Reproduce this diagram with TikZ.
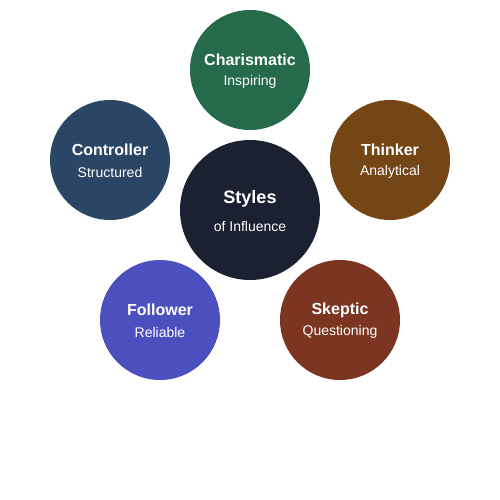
\documentclass[tikz,border=0pt]{standalone}
\usepackage{fontspec}
\setmainfont{Liberation Sans}
\definecolor{cCenter}{HTML}{1B2130}
\definecolor{cChar}{HTML}{256A4A}
\definecolor{cCtrl}{HTML}{2B4566}
\definecolor{cThink}{HTML}{744515}
\definecolor{cFollow}{HTML}{4C50BF}
\definecolor{cSkep}{HTML}{7B3520}
\tikzset{
  bubble/.style={circle, minimum size=120pt, inner sep=0pt, draw=none},
  hub/.style={circle, minimum size=140pt, inner sep=0pt, draw=none, fill=cCenter},
  ttl/.style={text=white, font=\fontsize{16}{18}\selectfont\bfseries},
  sub/.style={text=white, font=\fontsize{14}{16}\selectfont},
}
\begin{document}
\begin{tikzpicture}[x=1pt,y=-1pt]
\useasboundingbox (0,0) rectangle (500,500);
\node[hub] (center) at (250,210) {};
\node[text=white, font=\fontsize{18}{20}\selectfont\bfseries] (centerT) at (250,199) {Styles};
\node[sub] (centerS) at (250,226) {of Influence};

\node[bubble, fill=cChar] (char) at (250,70) {};
\node[ttl] (charT) at (250,60) {Charismatic};
\node[sub] (charS) at (250,82) {Inspiring};

\node[bubble, fill=cCtrl] (ctrl) at (110,160) {};
\node[ttl] (ctrlT) at (110,150) {Controller};
\node[sub] (ctrlS) at (110,172) {Structured};

\node[bubble, fill=cThink] (think) at (390,160) {};
\node[ttl] (thinkT) at (390,150) {Thinker};
\node[sub] (thinkS) at (390,172) {Analytical};

\node[bubble, fill=cFollow] (follow) at (160,320) {};
\node[ttl] (followT) at (160,310) {Follower};
\node[sub] (followS) at (160,332) {Reliable};

\node[bubble, fill=cSkep] (skep) at (340,320) {};
\node[ttl] (skepT) at (340,310) {Skeptic};
\node[sub] (skepS) at (340,332) {Questioning};
\end{tikzpicture}
\end{document}
